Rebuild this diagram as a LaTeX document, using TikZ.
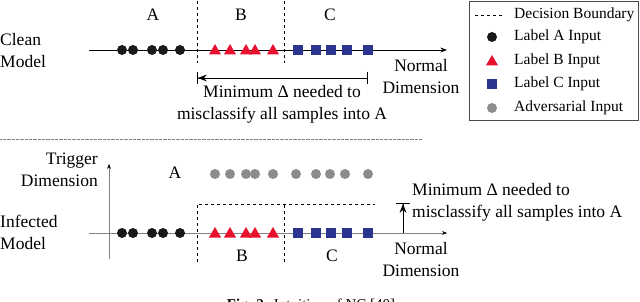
\documentclass[tikz,border=0pt]{standalone}
\usepackage{fontspec}
\setmainfont{Liberation Serif}
\usetikzlibrary{arrows.meta,positioning,shapes.geometric}
\definecolor{redB}{HTML}{E8112D}
\definecolor{blueC}{HTML}{2B3590}
\definecolor{grayAdv}{HTML}{8C8C8C}

\begin{document}
\begin{tikzpicture}[x=1pt,y=-1pt,>=Stealth,
  ptA/.style={circle,fill=black!90,inner sep=0pt,minimum size=10pt},
  ptB/.style={regular polygon,regular polygon sides=3,fill=redB,inner sep=0pt,minimum size=14pt},
  ptC/.style={rectangle,fill=blueC,inner sep=0pt,minimum size=10pt},
  ptAdv/.style={circle,fill=grayAdv,inner sep=0pt,minimum size=10pt},
  txt/.style={font=\fontsize{17.5}{22}\selectfont,align=center,inner sep=0pt},
  leg/.style={font=\fontsize{15.5}{18}\selectfont,anchor=west,inner sep=0pt},
  bnd/.style={dashed,thin}]
\useasboundingbox (0,0) rectangle (640,302);
% clean model
\coordinate (cl0) at (89,50); \coordinate (cl1) at (447,50);
\draw[->,thick] (cl0) -- (cl1);
\coordinate (db1t) at (197,1); \coordinate (db1b) at (197,63);
\coordinate (db2t) at (284,1); \coordinate (db2b) at (284,63);
\draw[bnd] (db1t) -- (db1b); \draw[bnd] (db2t) -- (db2b);
\foreach \n/\x in {1/122,2/133,3/152,4/163,5/180} \node[ptA] (a\n) at (\x,50) {};
\foreach \n/\x in {1/215,2/230,3/246,4/255,5/273} \node[ptB] (b\n) at (\x,51) {};
\foreach \n/\x in {1/298,2/316,3/331,4/347,5/368} \node[ptC] (c\n) at (\x,50) {};
\node[txt] (lA) at (153,15) {A}; \node[txt] (lB) at (241,15) {B}; \node[txt] (lC) at (330,15) {C};
\node[txt,anchor=west,align=left] (clean) at (0,51) {Clean\\Model};
\node[txt] (nd1) at (421,77) {Normal\\Dimension};
\coordinate (dl) at (197,78); \coordinate (dr) at (368,78); \coordinate (dm) at (282,78);
\draw[thick,{Bar[width=12pt]Stealth[length=9pt]}-{Bar[width=12pt]}] (dl) -- (dr);
\node[txt,below=7pt of dm] (delta1) {Minimum Δ needed to\\misclassify all samples into A};
% legend
\draw[gray!60!black] (469,1) rectangle (638,120);
\coordinate (dsh0) at (475,15); \coordinate (dsh1) at (503,15);
\draw[dashed] (dsh0) -- (dsh1);
\node[leg] (l1) at (514,15) {Decision Boundary};
\node[ptA] (sA) at (492,37) {}; \node[leg] (l2) at (514,37) {Label A Input};
\node[ptB] (sB) at (492,62) {}; \node[leg] (l3) at (514,61) {Label B Input};
\node[ptC] (sC) at (492,84) {}; \node[leg] (l4) at (514,84) {Label C Input};
\node[ptAdv] (sD) at (492,108) {}; \node[leg] (l5) at (514,108) {Adversarial Input};
% separator
\coordinate (sep0) at (0,139); \coordinate (sep1) at (422,139);
\draw[gray,dash pattern=on 0.8pt off 0.5pt] (sep0) -- (sep1);
% infected model
\coordinate (in0) at (89,233); \coordinate (in1) at (447,233);
\coordinate (ax0) at (109,259); \coordinate (ax1) at (109,164);
\draw[gray,-{Stealth[black]}] (in0) -- (in1);
\draw[gray,-{Stealth[black]}] (ax0) -- (ax1);
\coordinate (ib1b) at (197,262); \coordinate (ib1t) at (197,204);
\coordinate (ib2b) at (284,262); \coordinate (ib2t) at (284,204);
\coordinate (ibr) at (375,204);
\draw[bnd] (ib1b) -- (ib1t) -- (ibr); \draw[bnd] (ib2b) -- (ib2t);
\foreach \n/\x in {1/122,2/133,3/152,4/163,5/180} \node[ptA] (ia\n) at (\x,233) {};
\foreach \n/\x in {1/215,2/230,3/246,4/255,5/273} \node[ptB] (ib\n) at (\x,234) {};
\foreach \n/\x in {1/298,2/316,3/331,4/347,5/368} \node[ptC] (ic\n) at (\x,233) {};
\foreach \n/\x in {1/215,2/230,3/246,4/255,5/273,6/296,7/316,8/330,9/345,10/368} \node[ptAdv] (adv\n) at (\x,174) {};
\node[txt] (iA) at (175,173) {A}; \node[txt] (iB) at (242,256) {B}; \node[txt] (iC) at (332,256) {C};
\node[txt,anchor=east,align=right] (trig) at (98,170) {Trigger\\Dimension};
\node[txt,anchor=west,align=left] (infected) at (0,232) {Infected\\Model};
\coordinate (up0) at (403,233); \coordinate (up1) at (403,203);
\draw[thick,-{Stealth[length=9pt]Bar[width=14pt]}] (up0) -- (up1);
\node[txt,anchor=west,align=left] (delta2) at (412,202) {Minimum Δ needed to\\misclassify all samples into A};
\node[txt] (nd2) at (421,260) {Normal\\Dimension};
\node[font=\fontsize{15}{18}\selectfont,anchor=base] (cap) at (311,309) {\textbf{Fig. 2:} Intuition of NC [40]};
\end{tikzpicture}
\end{document}
